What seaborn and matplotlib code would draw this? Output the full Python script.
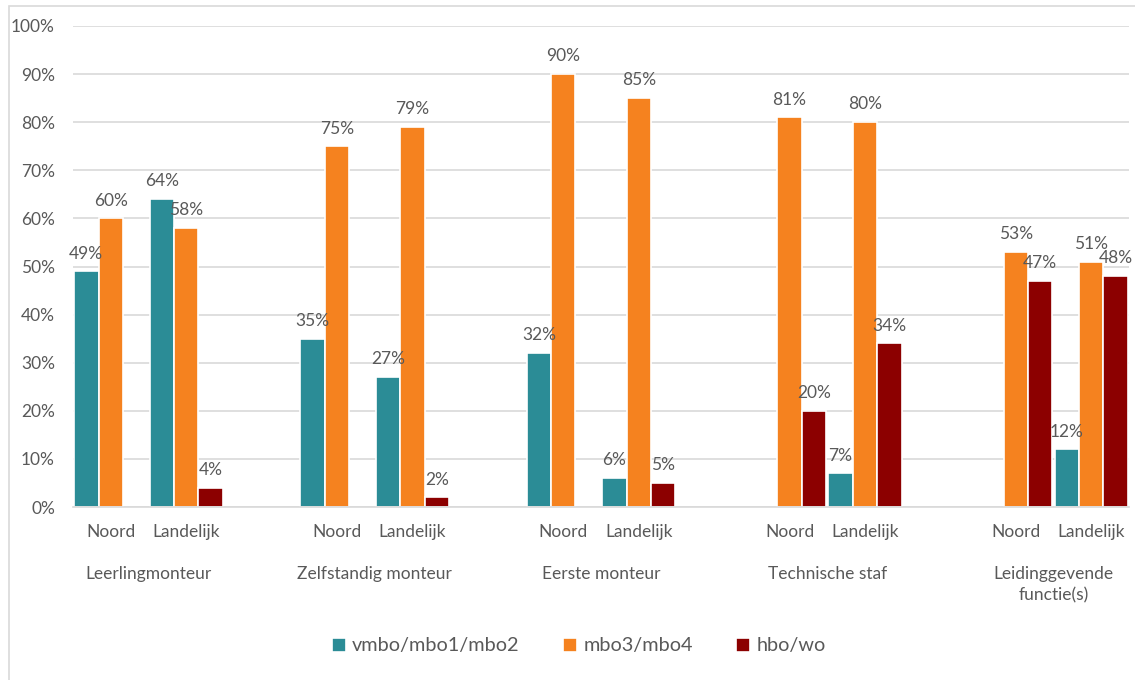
import matplotlib
matplotlib.use("Agg")
import matplotlib.pyplot as plt
import matplotlib.ticker as mticker
from matplotlib.patches import Rectangle
import seaborn as sns
import pandas as pd

# ---- data ----
groups = ["Leerlingmonteur", "Zelfstandig monteur", "Eerste monteur",
          "Technische staf", "Leidinggevende\nfunctie(s)"]
regions = ["Noord", "Landelijk"]
levels = ["vmbo/mbo1/mbo2", "mbo3/mbo4", "hbo/wo"]
# values per group: [Noord, Landelijk] for each level (None = no bar)
vmbo = [[49, 64], [35, 27], [32, 6], [None, 7], [None, 12]]
mbo34 = [[60, 58], [75, 79], [90, 85], [81, 80], [53, 51]]
hbo = [[None, 4], [None, 2], [None, 5], [20, 34], [47, 48]]
colors = ["#2B8C96", "#F5821F", "#8C0000"]

rows = []
for gi, g in enumerate(groups):
    for ri, r in enumerate(regions):
        key = f"{gi}|{r}"
        for lev, series in zip(levels, [vmbo, mbo34, hbo]):
            v = series[gi][ri]
            if v is not None:
                rows.append({"slot": key, "level": lev, "value": v})
df = pd.DataFrame(rows)

order = []
for gi in range(len(groups)):
    order += [f"{gi}|Noord", f"{gi}|Landelijk"]
    if gi < len(groups) - 1:
        order.append(f"gap{gi}")

sns.set_theme(style="white")
plt.rcParams["font.family"] = ["Lato", "DejaVu Sans"]
txt = "#595959"

fig = plt.figure(figsize=(11.35, 6.8), dpi=100)
ax = fig.add_axes([73 / 1135, 1 - 507 / 680, (1129 - 73) / 1135, (507 - 26) / 680])

sns.barplot(data=df, x="slot", y="value", hue="level", order=order,
            hue_order=levels, palette=colors, width=0.97, dodge=True,
            edgecolor="white", linewidth=1.2, saturation=1, ax=ax, legend=True)

# data labels
for cont in ax.containers:
    labels = [f"{v:.0f}%" if v == v and v > 0 else "" for v in cont.datavalues]
    ax.bar_label(cont, labels=labels, padding=7, fontsize=12.5, color=txt)

ax.set_ylim(0, 100)
ax.set_xlim(-0.5, len(order) - 0.5)
ax.yaxis.set_major_locator(mticker.MultipleLocator(10))
ax.yaxis.set_major_formatter(mticker.FuncFormatter(lambda x, p: f"{x:.0f}%"))
ax.grid(axis="y", color="#D9D9D9", linewidth=1.2)
ax.set_axisbelow(True)
for s in ["left", "right", "top"]:
    ax.spines[s].set_visible(False)
ax.spines["bottom"].set_color("#D9D9D9")
ax.spines["bottom"].set_linewidth(1.2)
ax.set_xlabel("")
ax.set_ylabel("")
ax.tick_params(axis="y", length=0, labelsize=12.5, labelcolor=txt, pad=13)

# x ticks: region labels at slot centers, tick marks at slot boundaries
centers = [i for i, o in enumerate(order) if not o.startswith("gap")]
ax.set_xticks(centers)
ax.set_xticklabels([order[i].split("|")[1] for i in centers])
ax.tick_params(axis="x", which="major", length=0, labelsize=12.5, labelcolor=txt, pad=12)
ax.set_xticks([i - 0.5 for i in range(len(order) + 1)], minor=True)
ax.tick_params(axis="x", which="minor", length=7, color="#D9D9D9", width=1.2)

# group labels
for gi, g in enumerate(groups):
    xc = (centers[2 * gi] + centers[2 * gi + 1]) / 2
    ax.text(xc, -0.122, g, transform=ax.get_xaxis_transform(), ha="center",
            va="top", fontsize=12.5, color=txt, linespacing=1.45)

# legend
h, l = ax.get_legend_handles_labels()
ax.legend_.remove()
fig.legend(h, l, loc="center", bbox_to_anchor=(0.51, 0.05), ncol=3,
           frameon=False, fontsize=14.3, labelcolor=txt, handlelength=0.7,
           handleheight=0.7, handletextpad=0.3, columnspacing=2.2)

# outer frame
fig.patches.append(Rectangle((9 / 1135, -0.1), 1.2, 1 - 6 / 680 + 0.1,
                             transform=fig.transFigure, fill=False,
                             edgecolor="#D9D9D9", linewidth=1.2))

fig.savefig("out.png", dpi=100)
